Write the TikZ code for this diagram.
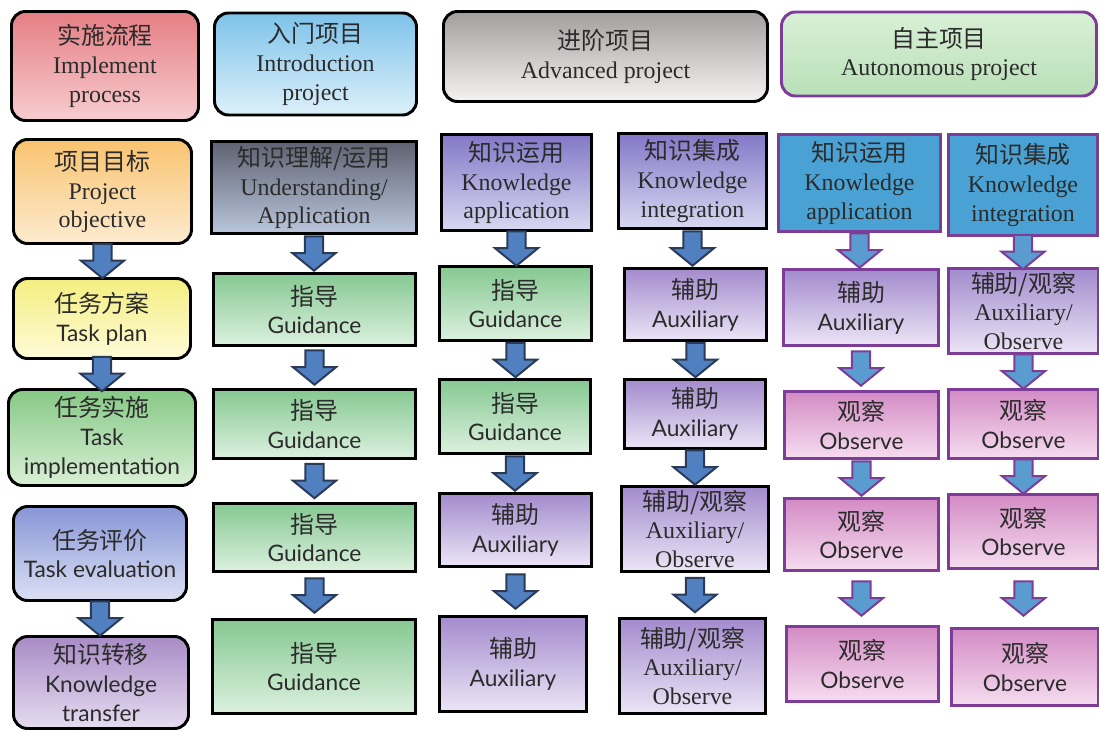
\documentclass[tikz,border=0pt]{standalone}
\usepackage{fontspec}
\setmainfont{Liberation Serif}
\newfontfamily\cjk{Noto Sans CJK SC}
\newfontfamily\gill{Lato}[Scale=0.95]
\usetikzlibrary{calc}

\newcommand{\zh}[1]{{\cjk #1}}
\newcommand{\gs}[1]{{\gill #1}}

\definecolor{txt}{HTML}{2B2B2B}
\definecolor{purp}{HTML}{7D3C98}
\definecolor{arrfill}{HTML}{5080C0}
\definecolor{arrline}{HTML}{2B3A58}
\definecolor{parfill}{HTML}{5A9BD0}
\definecolor{redtop}{HTML}{E57E84}
\definecolor{redbot}{HTML}{F7CDD0}
\definecolor{bluetop}{HTML}{7EC3EA}
\definecolor{bluebot}{HTML}{DDF0FA}
\definecolor{greytop}{HTML}{A29E9E}
\definecolor{greybot}{HTML}{F5F3F1}
\definecolor{auttop}{HTML}{D9F0D6}
\definecolor{autbot}{HTML}{B9E0B8}
\definecolor{objtop}{HTML}{F9C36F}
\definecolor{objbot}{HTML}{FDEBD0}
\definecolor{plantop}{HTML}{F4EE80}
\definecolor{planbot}{HTML}{FEFBD8}
\definecolor{exetop}{HTML}{86C986}
\definecolor{exebot}{HTML}{D9EFD5}
\definecolor{evaltop}{HTML}{8796D6}
\definecolor{evalbot}{HTML}{DCE0F4}
\definecolor{trantop}{HTML}{A88CC6}
\definecolor{tranbot}{HTML}{E6DCF0}
\definecolor{undtop}{HTML}{5E6272}
\definecolor{undbot}{HTML}{BAC6DC}
\definecolor{guidtop}{HTML}{86C892}
\definecolor{guidbot}{HTML}{DCF1DF}
\definecolor{kaptop}{HTML}{8377C6}
\definecolor{kapbot}{HTML}{D9D9F2}
\definecolor{auxtop}{HTML}{A38BCD}
\definecolor{auxbot}{HTML}{ECE5F6}
\definecolor{kblue}{HTML}{4AA2D4}
\definecolor{obstop}{HTML}{D38BC4}
\definecolor{obsbot}{HTML}{F6DDF0}

% block arrow of fixed size, centred in the gap between #2 and #3
\newcommand{\flowarrow}[3][]{%
  \coordinate (mid) at ($(#2.south)!0.5!(#2.south |- #3.north)$);
  \coordinate (tip) at ([yshift=-4.3mm]mid);
  \draw[blockarrow,#1] ([xshift=-2.3mm,yshift=4.3mm]mid) -- ([xshift=-2.3mm,yshift=4.4mm]tip)
    -- ([xshift=-5.4mm,yshift=4.4mm]tip) -- (tip) -- ([xshift=5.4mm,yshift=4.4mm]tip)
    -- ([xshift=2.3mm,yshift=4.4mm]tip) -- ([xshift=2.3mm,yshift=4.3mm]mid) -- cycle;}

\begin{document}
\begin{tikzpicture}[
    x=0.025cm,y=-0.025cm,
    font=\fontsize{17}{20.5}\selectfont,
    wh/.style 2 args={minimum width=#1*0.025cm-0.075cm,minimum height=#2*0.025cm-0.075cm},
    box/.style={draw=black,line width=2.1pt,align=center,inner sep=1pt,text=txt},
    hdr/.style={box,rounded corners=3.5mm},
    pbox/.style={box,draw=purp},
    guid/.style={box,top color=guidtop,bottom color=guidbot},
    aux/.style={box,top color=auxtop,bottom color=auxbot},
    obs/.style={pbox,top color=obstop,bottom color=obsbot},
    blockarrow/.style={draw=arrline,fill=arrfill,line width=1.4pt,line join=miter},
    parrow/.style={draw=purp,fill=parfill}
  ]
    \useasboundingbox (0,0) rectangle (1099,731);

    % Header row
    \node[hdr,wh={190}{112},top color=redtop,bottom color=redbot] (head) at (105,66) {\zh{实施流程}\\Implement\\process};
    \node[hdr,wh={205}{105},top color=bluetop,bottom color=bluebot] (intro) at (315.5,64) {\zh{入门项目}\\Introduction\\project};
    \node[hdr,wh={327}{93},top color=greytop,bottom color=greybot] (adv) at (605.5,56.5) {\zh{进阶项目}\\Advanced project};
    \node[hdr,draw=purp,wh={318}{87},top color=auttop,bottom color=autbot] (auto) at (939,54) {\zh{自主项目}\\Autonomous project};

    % Left: implementation process
    \node[hdr,wh={181}{107},top color=objtop,bottom color=objbot] (obj) at (102.5,191.5) {\zh{项目目标}\\Project\\objective};
    \node[hdr,wh={180}{83},top color=plantop,bottom color=planbot] (plan) at (102,318.5) {\zh{任务方案}\\\gs{Task plan}};
    \node[hdr,wh={190}{99},top color=exetop,bottom color=exebot] (exe) at (102,437.5) {\zh{任务实施}\\\gs{Task}\\\gs{implementation}};
    \node[hdr,wh={176}{97},top color=evaltop,bottom color=evalbot] (eval) at (100,553.5) {\zh{任务评价}\\\gs{Task evaluation}};
    \node[hdr,wh={178}{95},top color=trantop,bottom color=tranbot] (trans) at (101,682.5) {\zh{知识转移}\\\gs{Knowledge}\\\gs{transfer}};

    % Introduction project
    \node[box,wh={208}{95},top color=undtop,bottom color=undbot] (i1) at (314,187.5) {\zh{知识理解/运用}\\Understanding/\\Application};
    \node[guid,wh={205}{75}] (i2) at (314.5,309.5) {\zh{指导}\\\gs{Guidance}};
    \node[guid,wh={205}{72}] (i3) at (314.5,424) {\zh{指导}\\\gs{Guidance}};
    \node[guid,wh={205}{71}] (i4) at (314.5,537.5) {\zh{指导}\\\gs{Guidance}};
    \node[guid,wh={206}{97}] (i5) at (314,666.5) {\zh{指导}\\\gs{Guidance}};

    % Advanced project: knowledge application
    \node[box,wh={153}{99},top color=kaptop,bottom color=kapbot] (a1) at (516.5,182.5) {\zh{知识运用}\\Knowledge\\application};
    \node[guid,wh={155}{77}] (a2) at (515.5,303.5) {\zh{指导}\\\gs{Guidance}};
    \node[guid,wh={154}{77}] (a3) at (515,416.5) {\zh{指导}\\\gs{Guidance}};
    \node[aux,wh={155}{76}] (a4) at (515.5,530) {\zh{辅助}\\\gs{Auxiliary}};
    \node[aux,wh={150}{98}] (a5) at (513,664) {\zh{辅助}\\\gs{Auxiliary}};

    % Advanced project: knowledge integration
    \node[box,wh={151}{98},top color=kaptop,bottom color=kapbot] (b1) at (692.5,181) {\zh{知识集成}\\Knowledge\\integration};
    \node[aux,wh={145}{75}] (b2) at (695.5,304.5) {\zh{辅助}\\\gs{Auxiliary}};
    \node[aux,wh={144}{72}] (b3) at (695,414) {\zh{辅助}\\\gs{Auxiliary}};
    \node[aux,wh={150}{88}] (b4) at (695,529) {\zh{辅助/观察}\\Auxiliary/\\Observe};
    \node[aux,wh={149}{98}] (b5) at (692.5,666) {\zh{辅助/观察}\\Auxiliary/\\Observe};

    % Autonomous project: knowledge application
    \node[pbox,wh={165}{100},fill=kblue] (c1) at (859.5,183) {\zh{知识运用}\\Knowledge\\application};
    \node[pbox,wh={158}{79},top color=auxtop,bottom color=auxbot] (c2) at (861,307.5) {\zh{辅助}\\\gs{Auxiliary}};
    \node[obs,wh={157}{70}] (c3) at (861.5,425) {\zh{观察}\\\gs{Observe}};
    \node[obs,wh={157}{75}] (c4) at (861.5,534.5) {\zh{观察}\\\gs{Observe}};
    \node[obs,wh={155}{78}] (c5) at (862.5,664) {\zh{观察}\\\gs{Observe}};

    % Autonomous project: knowledge integration
    \node[pbox,wh={152}{104},fill=kblue] (d1) at (1023,185) {\zh{知识集成}\\Knowledge\\integration};
    \node[pbox,wh={153}{88},top color=auxtop,bottom color=auxbot] (d2) at (1023.5,311) {\zh{辅助/观察}\\Auxiliary/\\Observe};
    \node[obs,wh={153}{72}] (d3) at (1023.5,424) {\zh{观察}\\\gs{Observe}};
    \node[obs,wh={153}{77}] (d4) at (1023.5,531.5) {\zh{观察}\\\gs{Observe}};
    \node[obs,wh={150}{80}] (d5) at (1025,667) {\zh{观察}\\\gs{Observe}};

    % Arrows
    \foreach \a/\b in {obj/plan,plan/exe,eval/trans,i1/i2,i2/i3,i3/i4,i4/i5,
        a1/a2,a2/a3,a3/a4,a4/a5,b1/b2,b2/b3,b3/b4,b4/b5}
      \flowarrow{\a}{\b};
    \foreach \a/\b in {c1/c2,c2/c3,c3/c4,c4/c5,d1/d2,d2/d3,d3/d4,d4/d5}
      \flowarrow[parrow]{\a}{\b};
  \end{tikzpicture}
\end{document}
